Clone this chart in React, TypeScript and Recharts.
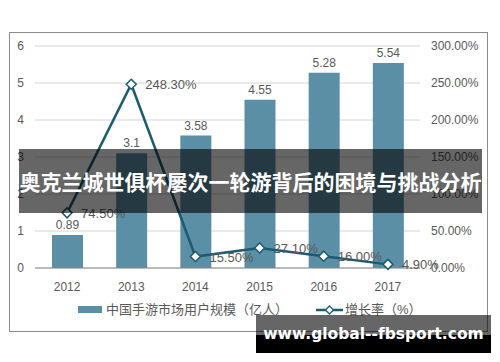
import React from 'react';
import {
  Bar,
  CartesianGrid,
  ComposedChart,
  LabelList,
  Line,
  XAxis,
  YAxis,
} from 'recharts';

const years = ['2012', '2013', '2014', '2015', '2016', '2017'];
const users = [0.89, 3.1, 3.58, 4.55, 5.28, 5.54];
const growth = [74.5, 248.3, 15.5, 27.1, 16.0, 4.9];
const leftTicks = [0, 1, 2, 3, 4, 5, 6];
const rightTicks = [0, 50, 100, 150, 200, 250, 300];

const BAR_COLOR = '#5a8fa6';
const LINE_COLOR = '#1c5b70';
const TEXT_COLOR = '#595959';
const FONT = "'Liberation Sans', 'Noto Sans CJK SC', sans-serif";

const data = years.map((y, i) => ({ year: y, users: users[i], rate: growth[i] }));

const axisText = { fill: TEXT_COLOR, fontSize: 12, fontFamily: FONT };

function Diamond(props: { cx?: number; cy?: number; index?: number }) {
  const { cx, cy, index } = props;
  if (cx == null || cy == null) return null;
  const r = 5;
  return (
    <path
      key={index}
      d={`M${cx},${cy - r} L${cx + r},${cy} L${cx},${cy + r} L${cx - r},${cy} Z`}
      fill="#fff"
      stroke={LINE_COLOR}
      strokeWidth={1.5}
    />
  );
}

function RateLabel(props: { x?: number; y?: number; value?: number; index?: number }) {
  const { x, y, value } = props;
  if (x == null || y == null || value == null) return null;
  return (
    <text x={x + 14} y={y + 5} textAnchor="start" {...axisText} fontSize={13}>
      {value.toFixed(2)}%
    </text>
  );
}

export default function App() {
  return (
    <div
      style={{
        position: 'absolute',
        left: 0,
        top: 0,
        width: 500,
        height: 362,
        background: '#fff',
        overflow: 'hidden',
        fontFamily: FONT,
      }}
    >
      <div
        style={{
          position: 'absolute',
          left: 9,
          top: 32,
          width: 479,
          height: 300,
          boxSizing: 'border-box',
          border: '1px solid #8c8c8c',
        }}
      />
      <div style={{ position: 'absolute', left: 0, top: 0 }}>
        <ComposedChart
          width={500}
          height={362}
          data={data}
          margin={{ top: 46, right: 10, left: 10, bottom: 64 }}
        >
          <CartesianGrid vertical={false} yAxisId="left" stroke="#d4d4d4" />
          <XAxis
            dataKey="year"
            tickLine={false}
            axisLine={{ stroke: '#8c8c8c' }}
            tick={axisText}
            tickMargin={8}
            height={30}
          />
          <YAxis
            yAxisId="left"
            domain={[0, 6]}
            ticks={leftTicks}
            width={25}
            tickLine={false}
            axisLine={false}
            tickSize={0}
            tickMargin={11}
            tick={axisText}
          />
          <YAxis
            yAxisId="right"
            orientation="right"
            domain={[0, 300]}
            ticks={rightTicks}
            width={70}
            tickLine={false}
            axisLine={false}
            tickSize={0}
            tickMargin={11}
            tick={axisText}
            tickFormatter={(v: number) => `${v.toFixed(2)}%`}
          />
          <Bar
            yAxisId="left"
            dataKey="users"
            fill={BAR_COLOR}
            barSize={31}
            isAnimationActive={false}
          >
            <LabelList dataKey="users" position="top" offset={6} {...axisText} />
          </Bar>
          <Line
            yAxisId="right"
            dataKey="rate"
            type="linear"
            stroke={LINE_COLOR}
            strokeWidth={2.5}
            dot={<Diamond />}
            activeDot={false}
            label={<RateLabel />}
            isAnimationActive={false}
          />
        </ComposedChart>
      </div>
      {/* legend */}
      <div
        style={{
          position: 'absolute',
          left: 78,
          top: 306,
          width: 24,
          height: 7,
          background: BAR_COLOR,
        }}
      />
      <div
        style={{
          position: 'absolute',
          left: 106,
          top: 301,
          fontSize: 13,
          lineHeight: '18px',
          color: TEXT_COLOR,
          whiteSpace: 'nowrap',
        }}
      >
        中国手游市场用户规模（亿人）
      </div>
      <svg style={{ position: 'absolute', left: 314, top: 302 }} width={32} height={16}>
        <line x1={2} y1={8} x2={29} y2={8} stroke={LINE_COLOR} strokeWidth={2.5} />
        <path d="M15.5,4 L19.5,8 L15.5,12 L11.5,8 Z" fill="#fff" stroke={LINE_COLOR} strokeWidth={1.3} />
      </svg>
      <div
        style={{
          position: 'absolute',
          left: 345,
          top: 301,
          fontSize: 13,
          lineHeight: '18px',
          color: TEXT_COLOR,
          whiteSpace: 'nowrap',
        }}
      >
        增长率（%）
      </div>
      {/* title banner */}
      <div
        style={{
          position: 'absolute',
          left: 19,
          top: 149,
          width: 463,
          height: 64,
          background: 'rgba(0,0,0,0.6)',
          color: '#fff',
          fontFamily: "'Noto Sans CJK SC', sans-serif",
          fontWeight: 700,
          fontSize: 21,
          lineHeight: '64px',
          textAlign: 'center',
          whiteSpace: 'nowrap',
        }}
      >
        奥克兰城世俱杯屡次一轮游背后的困境与挑战分析
      </div>
      {/* watermark */}
      <div
        style={{
          position: 'absolute',
          left: 256,
          top: 315,
          width: 235,
          height: 38,
          background: 'linear-gradient(to bottom, rgba(0,0,0,0.6) 0px, rgba(0,0,0,0.6) 20px, #000 20px)',
          color: '#fff',
          fontFamily: "'DejaVu Sans', sans-serif",
          fontWeight: 700,
          fontSize: 15.5,
          lineHeight: '38px',
          textAlign: 'center',
          whiteSpace: 'nowrap',
        }}
      >
        www.global--fbsport.com
      </div>
    </div>
  );
}
